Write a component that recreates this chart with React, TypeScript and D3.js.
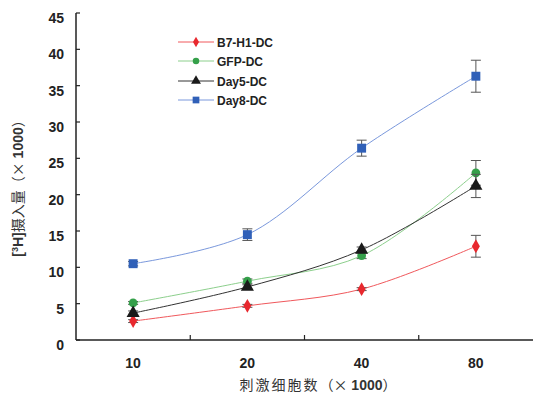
import React from "react";
import * as d3 from "d3";

const categories = ["10", "20", "40", "80"];
const yTicks = [0, 5, 10, 15, 20, 25, 30, 35, 40, 45];

const seriesNames = ["B7-H1-DC", "GFP-DC", "Day5-DC", "Day8-DC"];
const b7h1Values = [2.6, 4.7, 7.0, 12.9];
const b7h1Err = [0.2, 0.2, 0.2, 1.5];
const gfpValues = [5.1, 8.1, 11.6, 23.0];
const gfpErr = [0.2, 0.3, 0.4, 1.7];
const day5Values = [3.7, 7.3, 12.4, 21.2];
const day5Err = [0.3, 0.3, 0.4, 1.6];
const day8Values = [10.5, 14.5, 26.4, 36.3];
const day8Err = [0.3, 0.8, 1.1, 2.2];

const W = 534, H = 395;
const left = 76, right = 533, top = 13, bottom = 340;

export default function App() {
  const x = d3.scaleBand<string>().domain(categories).range([left, right]);
  const y = d3.scaleLinear().domain([0, 45]).range([bottom, top]);
  const cx = (c: string) => (x(c) as number) + x.bandwidth() / 2;

  const series = [
    { name: seriesNames[0], vals: b7h1Values, err: b7h1Err, line: "#f0585c", mark: "#e8282e", shape: "diamond" },
    { name: seriesNames[1], vals: gfpValues, err: gfpErr, line: "#8ccf8c", mark: "#35a04a", shape: "circle" },
    { name: seriesNames[2], vals: day5Values, err: day5Err, line: "#333333", mark: "#1a1a1a", shape: "triangle" },
    { name: seriesNames[3], vals: day8Values, err: day8Err, line: "#7a98dc", mark: "#3060b8", shape: "square" },
  ];

  const symbolFor = (s: string) => {
    if (s === "diamond") return d3.symbol().type(d3.symbolDiamond).size(55)();
    if (s === "circle") return d3.symbol().type(d3.symbolCircle).size(60)();
    if (s === "triangle") return d3.symbol().type(d3.symbolTriangle).size(75)();
    return d3.symbol().type(d3.symbolSquare).size(80)();
  };

  const lineGen = d3.line<number>()
    .x((_, i) => cx(categories[i]))
    .y((v) => y(v))
    .curve(d3.curveCatmullRom.alpha(0.5));

  const font = "Liberation Sans, Arial, sans-serif";
  const legendY = [42, 61, 81, 100];

  return (
    <svg width={W} height={H} style={{ position: "absolute", left: 0, top: 0 }}>
      <rect width={W} height={H} fill="#fff" />
      {/* axes */}
      <line x1={left} y1={top} x2={left} y2={bottom} stroke="#222" strokeWidth={1.5} />
      <line x1={left} y1={bottom} x2={right} y2={bottom} stroke="#222" strokeWidth={1.5} />
      {yTicks.map((t) => (
        <g key={t}>
          <line x1={left} x2={left + 4} y1={y(t)} y2={y(t)} stroke="#222" strokeWidth={1.2} />
          <text x={64} y={y(t) + 10} textAnchor="end" fontFamily={font} fontWeight="bold" fontSize={14} fill="#222">{t}</text>
        </g>
      ))}
      {categories.slice(1).map((c) => (
        <line key={c} x1={x(c) as number} x2={x(c) as number} y1={bottom} y2={bottom - 5} stroke="#222" strokeWidth={1.2} />
      ))}
      {categories.map((c) => (
        <text key={c} x={cx(c)} y={368} textAnchor="middle" fontFamily={font} fontWeight="bold" fontSize={14} fill="#222">{c}</text>
      ))}
      <text x={318} y={390} textAnchor="middle" fontFamily={font} fontSize={14} fill="#333">
        <tspan fontFamily="Noto Sans CJK SC" letterSpacing={2}>刺激细胞数</tspan>
        <tspan fontFamily="Noto Sans CJK SC">（×</tspan>
        <tspan fontWeight="bold"> 1000</tspan>
        <tspan fontFamily="Noto Sans CJK SC">）</tspan>
      </text>
      <text transform="translate(23,185) rotate(-90)" textAnchor="middle" fontFamily={font} fontSize={14} fill="#333">
        <tspan fontWeight="bold">[</tspan>
        <tspan fontWeight="bold" fontSize={9} dy={-5}>3</tspan>
        <tspan fontWeight="bold" dy={5}>H]</tspan>
        <tspan fontFamily="Noto Sans CJK SC">摄入量（×</tspan>
        <tspan fontWeight="bold"> 1000</tspan>
        <tspan fontFamily="Noto Sans CJK SC">）</tspan>
      </text>
      {/* series */}
      {series.map((s) => (
        <g key={s.name}>
          <path d={lineGen(s.vals) || ""} fill="none" stroke={s.line} strokeWidth={1} />
          {s.vals.map((v, i) => {
            const px = cx(categories[i]);
            const y1 = y(v + s.err[i]);
            const y2 = y(v - s.err[i]);
            return (
              <g key={i} stroke="#555" strokeWidth={1}>
                <line x1={px} x2={px} y1={y1} y2={y2} />
                <line x1={px - 5} x2={px + 5} y1={y1} y2={y1} />
                <line x1={px - 5} x2={px + 5} y1={y2} y2={y2} />
              </g>
            );
          })}
          {s.vals.map((v, i) => (
            <path key={"m" + i} d={symbolFor(s.shape) || ""} transform={`translate(${cx(categories[i])},${y(v)})`} fill={s.mark} />
          ))}
        </g>
      ))}
      {/* legend */}
      {series.map((s, i) => (
        <g key={"lg" + s.name}>
          <line x1={178} x2={214} y1={legendY[i]} y2={legendY[i]} stroke={s.line} strokeWidth={1} />
          <path d={symbolFor(s.shape) || ""} transform={`translate(196,${legendY[i]}) scale(0.75)`} fill={s.mark} />
          <text x={217} y={legendY[i] + 4.5} fontFamily={font} fontWeight="bold" fontSize={12} fill="#222">{s.name}</text>
        </g>
      ))}
    </svg>
  );
}
